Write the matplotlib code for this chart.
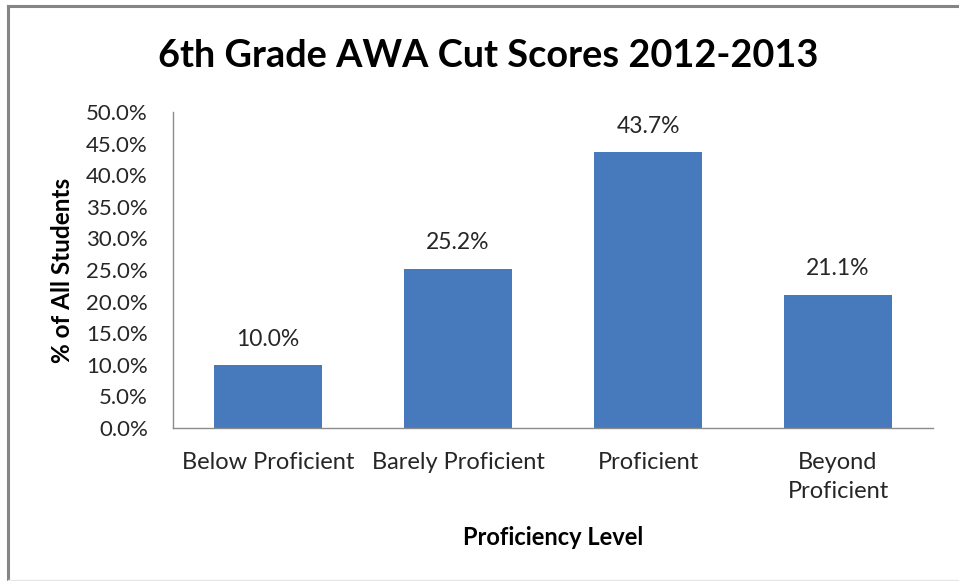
import matplotlib
matplotlib.use("Agg")
import matplotlib.pyplot as plt
from matplotlib.lines import Line2D
from matplotlib.ticker import FuncFormatter, MultipleLocator

plt.rcParams['font.family'] = ['Lato', 'DejaVu Sans']

categories = ["Below Proficient", "Barely Proficient", "Proficient", "Beyond\nProficient"]
percent_students = [10.0, 25.2, 43.7, 21.1]

title = "6th Grade AWA Cut Scores 2012-2013"
y_label = "% of All Students"
x_label = "Proficiency Level"

bar_color = "#4779BD"
text_color = "#262626"

fig = plt.figure(figsize=(9.59, 5.81), dpi=100)
ax = fig.add_axes([0.1804, 0.2633, 0.9729 - 0.1804, 0.8072 - 0.2633])

x = list(range(len(categories)))
bars = ax.bar(x, percent_students, width=0.57, color=bar_color, zorder=2)

for rect, val in zip(bars, percent_students):
    ax.annotate(f"{val:.1f}%", (rect.get_x() + rect.get_width() / 2, val),
                xytext=(0, 11), textcoords="offset points",
                ha="center", va="bottom", fontsize=16.5, color=text_color)

ax.set_xlim(-0.5, len(categories) - 0.5)
ax.set_ylim(0, 50)
ax.yaxis.set_major_locator(MultipleLocator(5))
ax.yaxis.set_major_formatter(FuncFormatter(lambda v, p: f"{v:.1f}%"))
ax.set_xticks(x)
ax.set_xticklabels(categories, fontsize=17, color=text_color, linespacing=1.5)
ax.tick_params(axis="y", labelsize=16, labelcolor=text_color, length=0, pad=18)
ax.tick_params(axis="x", length=0, pad=17)

for side in ("top", "right"):
    ax.spines[side].set_visible(False)
for side in ("left", "bottom"):
    ax.spines[side].set_color("#8C8C8C")
    ax.spines[side].set_linewidth(1.0)

ax.set_ylabel(y_label, fontsize=17.5, fontweight="bold", color="black", labelpad=9)
ax.set_xlabel(x_label, fontsize=17, fontweight="bold", color="black", labelpad=17)
fig.text(0.509, 0.903, title, ha="center", va="center", fontsize=27.3,
         fontweight="bold", color="black")

# outer chart frame
frame_kw = dict(color="#858585", linewidth=2.2, transform=fig.transFigure)
fig.add_artist(Line2D([0.0088, 1.0], [0.9897, 0.9897], **frame_kw))
fig.add_artist(Line2D([0.0088, 0.0088], [0.0, 0.9897], **frame_kw))
fig.add_artist(Line2D([0.0088, 1.0], [0.001, 0.001], color="#E6E6E6",
                      linewidth=1.0, transform=fig.transFigure))

fig.savefig("out.png", dpi=100)
